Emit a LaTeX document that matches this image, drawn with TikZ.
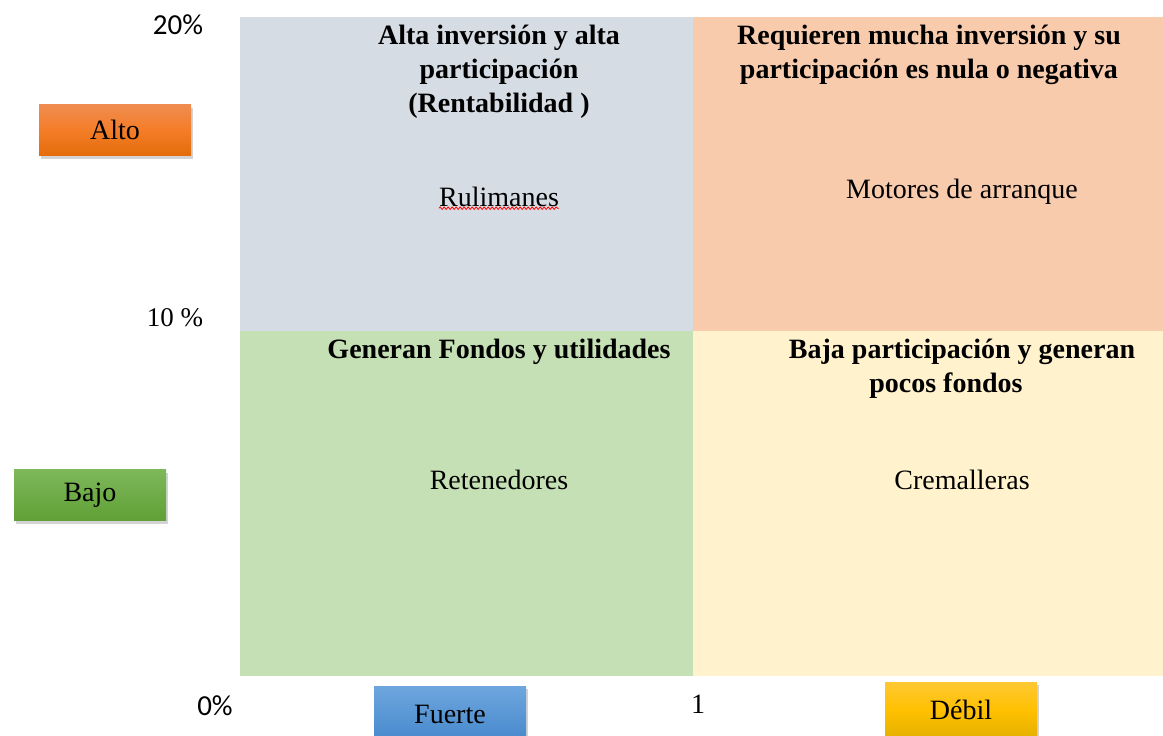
\documentclass[tikz,border=0pt]{standalone}
\usepackage{fontspec}
\setmainfont{Liberation Serif}
\newfontfamily\calfont{Carlito}
\usetikzlibrary{shadows,decorations.pathmorphing}
\definecolor{qblue}{HTML}{D6DCE4}
\definecolor{qorange}{HTML}{F8CBAD}
\definecolor{qgreen}{HTML}{C5E0B4}
\definecolor{qyellow}{HTML}{FFF2CC}
\tikzset{
 tag/.style={minimum width=152pt, minimum height=51pt, inner sep=0pt, font=\fontsize{28}{32}\selectfont, drop shadow={shadow xshift=2pt, shadow yshift=-3pt, opacity=.35}},
 head/.style={align=center, font=\fontsize{28}{34}\selectfont\bfseries, inner sep=0pt},
 item/.style={font=\fontsize{28}{32}\selectfont, inner sep=0pt, text height=1.5ex, text depth=0.25ex}
}
\begin{document}
\begin{tikzpicture}[x=1pt, y=-1pt]
 	\useasboundingbox (0,0) rectangle (1163,736);
 	% quadrants
 	\fill[qblue] (240,17) rectangle (693,331);
 	\fill[qorange] (693,17) rectangle (1163,331);
 	\fill[qgreen] (240,331) rectangle (693,676);
 	\fill[qyellow] (693,331) rectangle (1163,676);
 	% axis labels
 	\node(P20) at (178,25) {\calfont\fontsize{29}{32}\selectfont 20\%};
 	\node(P10) at (175,318) {\fontsize{27}{32}\selectfont 10 \%};
 	\node(P0) at (215,706) {\calfont\fontsize{29}{32}\selectfont 0\%};
 	\node(One) at (698,704) {\fontsize{28}{32}\selectfont 1};
 	\node[tag, top color={rgb,255:red,240;green,140;blue,80}, bottom color={rgb,255:red,228;green,108;blue,10}, middle color={rgb,255:red,244;green,125;blue,40}] (Alto) at (115,130) {Alto};
 	\node[tag, top color={rgb,255:red,126;green,184;blue,90}, bottom color={rgb,255:red,96;green,160;blue,54}] (Bajo) at (90,495) {Bajo};
 	\node[tag, top color={rgb,255:red,110;green,166;blue,222}, bottom color={rgb,255:red,70;green,136;blue,204}, minimum height=56pt, anchor=north] (Fuerte) at (450,686) {Fuerte};
 	\node[tag, top color={rgb,255:red,255;green,200;blue,50}, bottom color={rgb,255:red,228;green,176;blue,0}, middle color={rgb,255:red,255;green,192;blue,0}, minimum height=56pt, anchor=north] (Debil) at (961,682) {Débil};
 	% quadrant titles
 	\node[head, anchor=north] (StarHead) at (499,25) {Alta inversión y alta\\participación\\ (Rentabilidad )};
 	\node[head, anchor=north] (DogHead) at (929,25) {Requieren mucha inversión y su\\participación es nula o negativa};
 	\node[head, anchor=north] (CowHead) at (499,339) {Generan Fondos y utilidades};
 	\node[head, anchor=north] (QHead) at (962,339) {Baja participación y generan\\pocos fondos\hspace*{32pt}};
 	% products
 	\node[item] (Rul) at (499,204) {Rulimanes};
 	\node[item] (Mot) at (962,196) {Motores de arranque};
 	\node[item] (Ret) at (499,487) {Retenedores};
 	\node[item] (Crem) at (962,487) {Cremalleras};
 	\draw[red, line width=0.8pt, decorate, decoration={snake, amplitude=1.2pt, segment length=4pt}] (Rul.south west) -- (Rul.south east);
 	\end{tikzpicture}
\end{document}
